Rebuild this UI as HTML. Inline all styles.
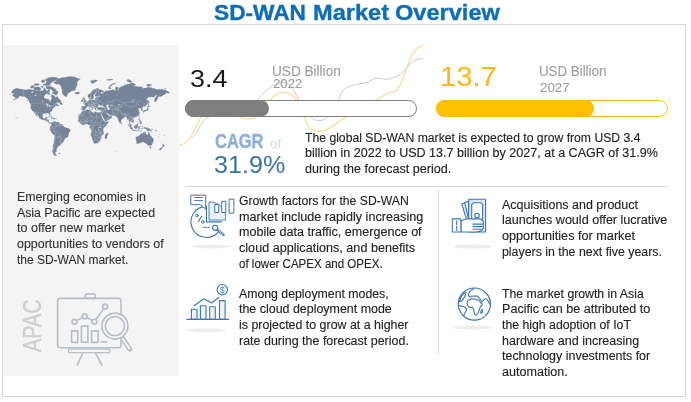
<!DOCTYPE html>
<html lang="en"><head><meta charset="utf-8"><title>SD-WAN Market Overview</title>
<style>
html,body{margin:0;padding:0;background:#fff;}
body{width:691px;height:402px;position:relative;overflow:hidden;font-family:"Liberation Sans",Arial,sans-serif;}
.t{position:absolute;white-space:nowrap;transform-origin:0 0;}
.abs{position:absolute;}
h1,p{margin:0;padding:0;font-size:12px;font-weight:normal;line-height:0;}
span.t{display:block;}
#frame{left:2px;top:24px;width:682px;height:371px;border:1px solid #d9d9d9;box-sizing:content-box;}
#panel{left:3px;top:45px;width:176px;height:331px;background:#f4f4f4;}
.bar{height:15px;border-radius:9px;border:1px solid;background:#fff;top:100px;}
.fill{height:17px;border-radius:8.5px;top:100px;}
svg{position:absolute;left:0;top:0;overflow:visible}
</style></head>
<body>
<div id="frame" class="abs"></div>
<div id="panel" class="abs"></div>
<svg width="691" height="402" viewBox="0 0 691 402" fill="none" stroke-linecap="butt"><path d="M191.7,138.6C192.4,137.7 194.7,135.2 196.2,133.0C197.7,130.8 199.1,127.5 200.6,125.2C202.1,122.9 203.8,120.3 205.1,119.0C206.4,117.7 205.2,118.1 208.5,117.1C211.8,116.1 218.9,114.7 225.0,113.0C231.1,111.3 239.7,109.2 245.0,107.0C250.3,104.8 253.8,102.3 257.0,100.0C260.2,97.7 261.5,95.3 264.0,93.0C266.5,90.7 269.7,87.6 272.0,86.0C274.3,84.4 275.9,84.1 278.0,83.5C280.1,82.9 282.4,82.2 284.6,82.6C286.8,83.0 288.7,83.3 291.0,86.0C293.3,88.7 296.3,95.0 298.5,99.0C300.7,103.0 302.1,107.1 304.0,110.0C305.9,112.9 308.5,114.7 310.2,116.3C311.9,117.9 312.5,118.8 314.0,119.5C315.5,120.2 317.6,120.6 319.3,120.6C321.1,120.6 323.0,120.2 324.5,119.5C326.0,118.8 326.8,118.2 328.4,116.3C330.0,114.4 332.3,110.7 334.0,108.0C335.7,105.3 337.3,102.8 338.6,100.0C339.9,97.2 340.5,93.6 342.0,91.5C343.5,89.4 345.4,88.3 347.4,87.3C349.4,86.3 351.6,85.9 354.0,85.3C356.4,84.7 359.4,84.0 361.8,83.4C364.2,82.9 366.4,82.7 368.3,82.0C370.2,81.3 371.8,79.6 373.5,79.0C375.2,78.4 376.8,78.2 378.7,78.2C380.6,78.2 383.2,79.2 385.2,79.3C387.1,79.4 388.4,79.1 390.4,78.6C392.3,78.1 394.7,77.2 396.9,76.1C399.1,74.9 401.4,73.5 403.4,71.7C405.3,69.9 407.0,67.2 408.6,65.5C410.2,63.8 411.6,62.3 413.0,61.3C414.4,60.3 415.6,59.9 417.3,59.4C419.0,58.9 422.3,58.6 423.3,58.4" stroke="#cdcdcd" stroke-width="1"/><path d="M179.4,145.1C180.3,144.8 183.1,144.4 185.0,143.1C186.9,141.8 188.9,139.9 190.6,137.5C192.3,135.1 193.7,131.1 195.0,128.5C196.3,125.9 197.4,123.8 198.4,121.8C199.4,119.8 199.9,118.8 201.2,116.8C202.5,114.8 203.7,111.8 206.0,110.0C208.3,108.2 211.0,106.0 215.0,106.0C219.0,106.0 225.7,108.1 230.0,110.0C234.3,111.9 238.0,116.0 241.0,117.5C244.0,119.0 245.7,119.0 248.0,119.0C250.3,119.0 252.5,119.3 255.0,117.5C257.5,115.7 260.5,110.9 263.0,108.0C265.5,105.1 267.8,102.2 270.0,100.0C272.2,97.8 273.7,95.8 276.0,94.5C278.3,93.2 281.2,92.2 283.7,92.2C286.2,92.2 288.8,93.2 291.0,94.5C293.2,95.8 295.3,97.8 297.0,100.0C298.7,102.2 299.8,105.3 301.0,108.0C302.2,110.7 303.1,113.3 304.3,116.3C305.5,119.3 306.8,123.7 308.2,126.0C309.6,128.3 311.0,129.1 313.0,130.0C315.0,130.9 317.3,131.8 320.0,131.6C322.7,131.4 326.0,130.2 329.0,128.6C332.0,127.0 335.1,124.1 338.2,122.1C341.2,120.0 343.3,118.8 347.3,116.3C351.3,113.8 357.3,109.7 362.0,107.0C366.7,104.3 372.2,101.8 375.7,100.0C379.2,98.2 380.8,97.2 383.0,96.0C385.2,94.8 387.0,93.8 389.0,93.0C391.0,92.2 393.3,92.6 395.0,91.5C396.7,90.4 397.8,89.2 399.4,86.3C401.0,83.4 402.9,78.8 404.6,74.3C406.4,69.8 408.0,63.5 409.9,59.4C411.8,55.3 413.6,52.1 415.8,49.7C418.0,47.3 422.1,46.0 423.3,45.2" stroke="#fbdb88" stroke-width="1.15"/></svg>
<div class="abs bar" style="left:185px;width:230px;border-color:#7f7f7f"></div>
<div class="abs fill" style="left:185px;width:84px;background:#7f7f7f"></div>
<div class="abs bar" style="left:436px;width:230px;border-color:#fdc01a"></div>
<div class="abs fill" style="left:436px;width:158px;background:#ffc000"></div>
<div class="abs" style="left:186px;top:186px;width:482px;height:1px;background:#d9d9d9"></div>
<div class="abs" style="left:438px;top:190px;width:1px;height:164px;background:#d9d9d9"></div>
<svg width="691" height="402" viewBox="0 0 691 402" aria-label="World map"><path d="M11.5,92.7L12.4,90.5L14.2,89.3L16.6,88.3L19.5,88.9L23.4,89.6L26.1,90.1L29.2,89.3L31.8,89.7L34.9,90.5L37.1,90.9L39.3,90.6L41.5,90.9L42.9,90.5L43.8,90.1L43.8,88.1L44.6,87.7L45.5,89.3L46.0,90.1L47.3,90.9L48.2,89.7L49.5,89.7L49.9,90.5L49.5,92.0L47.7,92.4L47.3,93.4L46.0,93.8L44.6,95.2L44.0,96.5L44.0,97.4L44.9,98.5L46.4,98.8L48.2,99.5L49.4,99.7L49.5,100.9L49.9,101.5L50.4,101.9L50.8,101.5L50.8,100.3L51.7,99.1L51.7,97.8L51.3,96.5L51.3,94.8L52.6,95.0L53.5,95.2L54.8,95.9L55.0,97.2L56.1,97.5L57.0,96.5L57.2,96.3L58.3,97.8L58.8,98.8L60.1,100.0L61.0,100.9L61.0,101.8L60.1,101.9L59.2,102.7L57.4,102.5L56.6,102.6L55.2,103.5L54.8,104.2L56.1,103.2L57.0,103.4L57.2,104.4L58.3,104.9L59.2,104.9L58.8,105.4L57.9,105.7L56.8,106.3L56.6,105.7L56.1,105.5L55.2,106.0L54.6,106.4L54.6,107.1L53.9,107.6L53.0,107.9L52.6,108.7L52.4,109.2L52.1,109.7L52.1,110.7L51.3,111.2L50.4,112.0L49.8,112.7L49.8,113.4L50.2,114.3L50.3,115.4L49.8,115.4L49.5,114.8L49.1,114.1L48.8,113.2L48.2,113.3L47.5,113.0L46.8,113.0L46.2,113.1L46.2,113.6L45.5,113.5L44.6,113.3L44.0,113.4L43.1,114.0L42.7,114.6L42.6,115.5L42.5,116.7L42.9,117.6L43.3,118.3L44.0,118.7L44.9,118.5L45.5,118.4L45.7,117.6L46.0,117.3L46.8,117.1L47.4,117.3L47.1,118.1L46.8,119.0L46.5,119.7L47.1,119.8L48.6,119.8L49.0,120.1L48.8,121.0L48.7,121.9L49.3,122.7L49.9,122.9L50.6,122.6L51.3,122.7L51.6,123.0L51.3,123.6L51.0,123.0L50.4,123.0L50.2,123.6L49.7,123.5L49.0,123.1L48.6,122.6L47.9,122.4L47.8,121.8L47.1,121.0L46.4,120.9L45.5,120.6L44.9,120.3L44.2,119.7L43.5,119.8L42.9,119.8L42.0,119.4L41.1,119.1L40.0,118.6L39.3,118.1L39.1,117.4L39.1,116.7L38.5,116.0L37.6,115.3L36.9,114.4L36.0,113.6L35.7,112.7L35.1,112.3L35.1,113.1L35.8,113.9L36.5,115.1L37.0,115.9L37.3,116.5L37.0,116.4L36.2,115.5L36.0,114.8L35.4,114.3L35.1,113.6L34.5,112.9L33.9,111.9L33.4,111.2L32.5,110.9L32.0,110.2L31.6,109.4L31.0,108.7L30.8,108.0L30.9,106.6L30.9,104.7L30.6,103.6L31.4,103.5L31.4,103.1L30.5,102.7L29.4,102.1L29.2,101.2L28.3,100.0L27.6,99.1L27.0,98.5L26.5,97.8L25.6,97.5L24.8,96.8L23.9,96.5L22.6,96.5L21.7,96.2L20.8,95.9L19.9,95.9L19.2,95.9L18.8,97.0L17.9,97.5L17.3,98.1L16.4,98.6L15.5,99.3L14.4,99.7L13.3,99.9L13.7,99.5L14.8,99.1L15.7,98.3L16.2,97.4L15.5,97.4L14.8,97.2L14.2,97.2L14.2,96.5L13.3,96.2L12.8,95.9L12.4,95.2L12.8,94.5L13.7,94.4L14.6,93.8L14.4,93.3L13.3,93.4L12.2,93.3L11.5,92.7ZM53.5,82.2L54.8,83.3L55.7,84.3L57.9,84.1L59.2,84.3L60.5,85.6L61.4,87.7L61.6,88.9L63.2,89.3L61.9,90.1L62.3,91.2L62.1,92.4L62.7,93.8L63.6,95.2L64.5,95.9L65.8,96.5L66.7,96.5L67.2,95.2L68.0,93.1L69.4,92.4L70.7,91.8L71.6,90.9L74.2,90.5L76.0,89.3L75.1,88.1L76.0,87.5L76.4,86.9L76.9,85.2L77.3,84.3L76.9,82.4L78.2,80.4L80.4,78.9L77.8,78.4L74.7,76.9L71.1,76.6L68.0,76.7L64.5,77.5L61.4,77.8L58.3,78.9L56.6,79.7L55.7,80.4L56.6,81.1L53.5,82.2ZM46.0,86.2L48.2,86.3L50.4,86.5L52.1,87.0L53.9,88.1L55.7,89.3L56.1,90.5L58.3,92.0L57.9,93.1L57.0,94.5L55.7,94.8L56.6,95.2L54.8,94.6L53.9,93.8L52.6,93.4L51.7,93.1L53.0,92.5L53.5,91.2L52.1,90.5L51.3,89.3L49.5,89.3L47.7,89.2L46.4,88.5L46.0,87.3ZM34.0,90.1L35.8,90.5L38.0,90.3L39.3,90.3L41.1,89.6L40.7,88.5L39.3,87.0L38.0,86.9L36.2,87.0L34.0,87.3L33.6,88.3L34.0,89.3ZM30.5,87.7L31.8,88.3L32.7,88.1L34.5,86.5L33.6,85.8L31.8,85.6L30.7,86.5ZM46.0,83.8L48.2,84.1L50.4,83.8L51.3,82.9L52.1,81.9L53.9,80.9L56.6,79.7L58.3,78.4L56.6,77.5L54.8,77.3L51.3,77.2L48.2,77.8L46.0,78.9L45.1,79.9L46.8,81.4L46.0,82.4ZM43.3,85.2L46.0,85.5L48.2,85.6L50.4,85.4L49.9,84.3L46.8,83.8L45.1,83.8L43.3,84.0ZM34.0,85.2L36.2,85.6L38.9,85.2L39.3,84.0L37.1,83.8L34.5,83.8ZM41.5,82.4L44.2,82.4L45.1,80.9L43.8,79.4L41.5,80.4ZM40.7,86.5L42.4,88.1L43.3,87.3L42.9,86.0ZM47.3,94.1L48.6,94.7L49.9,94.1L50.2,93.4L48.6,92.6L47.7,93.1ZM59.5,104.0L61.0,104.5L62.3,104.5L62.4,104.0L62.1,103.4L61.4,102.8L61.0,101.8L60.3,102.4L59.9,103.2L59.6,103.6ZM75.1,92.7L75.8,93.8L76.9,94.2L77.8,94.2L79.5,93.4L79.7,92.9L79.1,92.2L77.8,92.0L76.6,92.4L76.0,92.1ZM48.2,117.0L49.0,116.5L49.9,116.4L50.8,116.7L51.7,117.2L52.4,117.5L52.9,117.8L51.5,117.9L51.3,117.5L50.4,117.0L49.5,116.7L48.6,117.0ZM52.8,118.6L53.5,117.9L54.1,117.9L54.8,118.0L55.5,118.5L54.8,118.7L54.1,118.9L53.5,118.7ZM51.1,118.6L51.7,118.5L52.1,118.8L51.5,118.9ZM56.0,118.5L56.7,118.6L56.6,118.8L56.0,118.8ZM51.6,123.0L52.1,122.6L52.6,121.9L53.5,121.8L53.9,121.4L54.1,121.9L54.3,121.6L54.8,121.5L55.5,121.8L56.1,122.1L57.2,122.3L58.3,122.1L58.8,122.6L59.2,123.0L59.9,123.7L60.5,124.1L61.4,124.2L62.3,124.4L63.0,124.9L63.2,125.5L63.6,126.4L63.6,126.8L64.3,127.1L64.7,127.2L65.8,127.5L66.3,128.1L67.2,128.1L68.0,128.2L68.7,128.6L69.4,129.1L70.1,129.4L70.2,130.1L70.2,131.0L69.8,131.7L69.2,132.3L68.7,132.9L68.5,133.6L68.5,134.5L68.3,135.2L68.0,136.2L67.6,137.2L66.9,137.6L66.1,137.7L65.2,138.1L64.5,138.9L64.2,139.6L64.2,140.4L63.6,141.1L63.2,141.9L62.5,142.7L62.1,143.3L61.4,143.7L60.8,143.6L60.1,143.3L59.9,143.2L60.4,144.0L60.5,144.5L60.2,145.3L59.4,145.7L58.3,145.8L58.2,146.7L57.0,146.9L57.0,147.6L57.6,147.8L56.9,148.3L56.8,149.2L56.0,149.6L55.9,150.2L56.6,150.6L56.6,151.1L55.8,151.8L55.2,152.7L55.5,153.5L54.8,153.7L54.3,154.5L53.7,154.3L53.1,153.7L52.7,152.7L52.4,151.5L52.4,150.3L53.0,149.2L53.5,148.3L53.0,147.2L53.2,145.8L53.2,144.8L53.7,143.7L54.1,142.4L54.1,141.1L54.3,140.1L54.6,139.1L54.7,137.7L54.7,136.2L54.7,135.4L53.9,134.8L52.6,134.0L52.0,133.2L51.6,132.4L51.1,131.5L50.6,130.4L49.9,129.6L49.8,128.9L50.4,128.3L50.4,127.7L49.9,127.3L50.2,126.8L50.4,126.4L50.8,126.1L51.0,125.7L51.5,125.0L51.6,124.4L51.5,123.7ZM54.6,153.8L55.5,153.8L55.7,154.3L56.3,154.9L57.0,155.1L56.3,155.4L55.5,155.6L54.6,155.4L53.9,154.9L54.3,154.6L54.7,154.3ZM58.8,152.9L60.1,152.9L60.1,153.5L58.8,153.5ZM83.1,110.3L83.7,110.6L84.8,110.7L85.7,110.3L87.0,109.8L88.3,109.7L89.5,109.7L90.1,109.5L90.6,109.8L90.3,110.4L90.6,111.2L90.1,111.3L90.8,111.6L91.4,111.8L92.3,112.0L92.8,112.5L93.6,112.9L94.1,113.0L94.5,112.7L94.5,111.9L95.4,111.8L96.1,112.1L96.7,112.3L97.6,112.5L98.5,112.7L99.4,112.4L100.1,112.6L100.8,112.5L101.1,113.4L100.7,114.1L100.3,113.9L100.1,113.1L100.1,113.9L100.6,114.3L100.9,115.1L101.4,116.0L101.6,116.7L102.0,117.4L102.1,118.3L102.7,118.8L103.1,119.8L103.6,120.3L104.2,120.9L104.8,121.3L104.8,121.7L105.6,122.1L106.5,121.8L107.3,121.8L108.3,121.5L108.2,122.1L108.0,122.8L107.6,123.7L106.9,124.6L106.5,125.3L106.0,125.7L105.1,126.4L104.5,127.3L104.0,127.7L103.4,128.4L103.0,129.1L102.8,129.8L103.1,130.5L103.1,131.2L103.6,131.9L103.6,132.9L103.7,133.8L103.1,134.5L102.0,135.2L101.4,136.0L101.0,136.4L101.4,137.2L101.4,138.1L100.3,138.9L100.2,139.6L100.1,140.4L99.6,141.0L99.2,141.6L98.3,142.6L97.6,143.0L97.0,143.2L96.1,143.2L95.4,143.3L94.5,143.6L93.9,143.3L93.7,142.5L93.6,141.9L93.2,140.9L92.9,140.4L92.3,139.4L92.2,138.1L92.0,137.2L91.4,136.2L90.9,135.2L90.9,134.3L91.1,133.3L91.7,132.6L91.8,131.9L91.4,131.0L91.1,129.6L91.0,129.1L90.6,128.7L89.9,128.0L89.7,127.3L89.8,126.6L89.9,125.9L90.0,125.3L89.6,124.8L88.8,124.9L88.3,124.9L87.9,124.2L87.6,124.0L86.8,124.0L86.1,124.1L85.3,124.5L84.8,124.7L84.4,124.6L83.7,124.5L83.1,124.7L82.4,124.9L81.7,124.6L81.1,124.0L80.6,123.7L80.2,123.5L79.8,123.0L79.8,122.6L79.3,122.1L79.1,121.9L78.3,121.3L78.3,120.8L78.0,120.3L78.4,119.7L78.5,119.0L78.6,118.3L78.4,117.6L78.2,117.4L78.4,116.7L78.6,116.1L79.1,115.8L79.3,115.1L79.7,114.6L80.0,114.1L80.8,113.8L81.3,113.3L81.4,112.7L81.6,111.9L82.2,111.4L82.7,111.1ZM107.5,132.4L107.8,133.1L108.0,134.0L107.6,134.8L107.3,135.7L107.0,136.9L106.7,138.1L106.5,138.6L105.7,138.9L105.1,138.6L104.9,137.7L104.9,136.9L105.3,136.0L105.1,134.8L105.6,134.3L106.2,134.0L106.9,133.3L107.5,132.4ZM81.7,109.7L81.6,108.8L81.8,108.1L81.8,107.4L81.6,106.4L82.2,106.2L83.3,106.3L84.8,106.3L85.1,105.7L85.1,104.9L84.6,104.2L83.7,103.8L83.7,103.5L85.0,103.4L85.0,102.9L85.7,103.0L86.4,102.6L86.8,102.0L87.2,101.9L87.6,101.5L87.8,100.9L88.8,100.6L89.2,100.4L89.7,100.3L89.5,99.4L89.3,98.5L90.3,98.0L90.2,98.8L90.1,99.4L90.6,100.3L91.2,100.1L91.9,100.3L93.0,100.0L93.9,99.9L94.5,100.1L95.0,99.7L95.0,99.1L95.0,98.5L95.6,98.0L96.1,98.5L96.4,98.1L96.4,97.6L96.1,97.0L97.2,96.8L98.1,96.7L98.9,96.5L98.3,96.1L97.2,96.3L95.9,96.5L95.2,96.0L95.2,95.2L95.2,94.5L95.9,93.8L96.7,93.1L96.7,92.6L96.3,92.5L95.4,92.7L95.0,93.8L94.3,94.3L93.6,94.8L93.3,95.9L93.4,96.2L94.0,96.5L93.6,97.3L93.0,98.0L93.0,98.8L92.8,99.1L92.0,99.4L91.4,99.4L91.2,98.8L90.8,97.8L90.6,97.2L90.3,96.8L89.9,97.2L89.2,97.8L88.6,97.8L88.1,97.2L87.9,96.5L87.9,95.5L88.3,94.7L89.2,94.1L90.1,93.8L90.6,93.2L91.2,92.4L91.9,91.2L92.5,90.6L93.2,90.1L94.1,89.5L95.0,89.3L96.1,88.8L97.0,88.5L98.1,88.5L99.4,89.1L98.9,89.6L100.3,89.8L101.6,90.1L102.7,90.5L103.4,90.9L103.8,91.6L103.8,91.8L102.9,92.2L101.6,92.0L100.7,91.9L100.3,92.0L100.9,93.1L101.2,93.6L102.0,93.8L102.5,93.3L103.4,93.4L103.4,92.4L104.2,92.1L105.1,92.1L105.1,91.2L105.3,90.5L106.0,90.6L106.5,91.6L107.3,91.0L109.1,90.5L110.0,90.5L111.3,90.3L112.4,89.6L114.0,89.9L115.3,90.5L116.2,90.7L115.7,89.7L115.3,88.9L115.3,87.7L116.2,86.9L117.5,86.9L117.9,88.1L117.7,89.3L117.9,90.9L118.4,90.9L118.6,89.3L118.6,87.7L119.3,87.7L120.1,87.5L121.0,86.5L122.4,86.3L123.7,86.0L124.1,85.2L125.4,84.7L127.6,84.3L129.9,83.8L131.6,82.7L132.9,83.3L135.6,84.3L134.7,85.6L132.9,86.5L134.3,86.2L135.6,86.2L137.4,86.5L138.7,86.9L140.5,86.5L142.2,86.9L142.7,88.5L143.1,88.5L144.0,88.1L145.3,88.1L146.6,88.1L147.5,87.1L149.3,87.3L150.6,87.5L151.9,87.7L152.8,88.5L154.6,88.5L156.4,89.6L158.1,89.6L159.9,89.3L160.8,89.5L161.2,89.3L163.0,89.5L164.3,89.9L165.2,90.1L166.5,90.6L167.8,91.4L169.6,92.2L168.7,93.1L168.3,93.4L166.9,92.7L166.1,92.9L165.6,93.6L164.7,94.8L163.9,94.8L163.0,95.2L161.9,95.9L160.8,96.5L159.4,96.5L158.6,96.5L157.9,97.2L157.7,97.8L157.2,98.1L157.7,99.1L157.2,99.7L157.0,100.0L156.4,100.9L155.7,101.5L155.0,102.1L154.6,101.5L154.4,100.9L154.5,99.7L154.6,98.5L155.0,97.9L155.5,97.5L156.4,96.2L156.8,95.7L157.7,94.8L156.4,95.2L155.0,95.5L154.1,97.0L152.8,97.2L151.9,96.8L150.2,96.9L148.8,97.0L148.0,97.8L147.1,98.5L146.2,100.1L147.1,100.3L148.0,100.6L148.0,101.5L147.7,102.4L147.7,103.2L147.1,104.1L146.6,104.9L146.0,105.6L145.3,106.3L144.6,106.7L144.0,106.4L143.1,106.8L142.9,107.6L142.2,108.1L142.0,108.5L142.4,108.9L142.9,109.7L142.8,110.3L142.7,110.6L142.0,110.8L141.6,110.9L141.5,110.4L141.6,109.9L141.3,109.7L141.4,109.3L140.9,109.2L140.9,108.3L140.5,108.1L139.6,107.9L139.2,108.4L139.4,108.7L138.7,108.1L138.2,108.6L137.8,108.7L137.7,109.0L138.2,109.5L138.9,109.4L139.8,109.7L139.1,110.1L138.7,110.4L138.4,110.8L138.8,111.2L139.1,111.9L139.5,112.7L139.6,113.1L139.4,113.9L139.1,114.1L138.7,114.8L138.5,115.3L137.8,115.9L137.4,116.2L136.7,116.6L136.0,116.8L135.4,117.0L134.7,117.2L134.3,117.6L134.1,117.2L133.6,117.1L132.9,117.4L132.7,117.9L132.4,118.3L132.5,118.5L132.9,119.2L133.6,119.7L133.8,120.4L134.0,121.0L133.8,121.7L133.4,122.0L132.9,122.1L132.7,122.5L132.1,122.9L132.0,122.4L131.6,122.1L131.2,121.9L131.0,121.5L130.3,121.2L130.2,120.8L129.9,120.9L129.9,121.5L129.5,122.1L129.5,122.6L129.9,123.0L130.1,123.7L130.5,123.8L131.0,124.1L131.3,124.8L131.4,125.5L131.6,126.1L131.4,126.2L130.9,125.9L130.4,125.5L130.1,124.8L130.0,124.1L129.6,123.7L129.2,123.3L129.1,122.8L129.2,122.4L129.2,121.7L129.0,121.0L128.8,120.1L128.8,119.4L128.3,119.2L127.9,119.7L127.3,119.7L127.4,119.0L127.2,118.3L126.8,117.9L126.3,117.2L126.1,116.7L125.7,116.6L125.0,116.9L124.6,117.1L124.1,117.2L124.0,117.6L123.5,118.0L123.0,118.3L122.4,119.0L121.9,119.4L121.2,119.8L121.1,120.4L121.1,121.0L120.9,121.7L120.9,122.2L120.6,122.7L120.1,123.0L119.9,123.3L119.7,123.1L119.4,122.6L119.3,122.1L118.8,121.3L118.6,120.6L118.3,119.9L117.9,119.2L117.8,118.3L117.8,117.9L117.8,117.3L117.5,117.3L116.8,117.5L116.2,116.8L116.6,116.5L115.9,116.2L115.5,116.1L115.2,115.6L115.1,115.4L114.0,115.4L113.1,115.4L112.2,115.3L111.1,115.3L110.8,114.6L109.8,114.8L109.1,114.6L108.4,114.1L108.0,113.4L107.6,113.0L107.1,113.1L106.9,113.4L107.1,113.9L107.8,114.7L107.9,115.3L108.2,115.1L108.4,115.5L108.4,115.9L108.9,115.9L109.5,115.9L110.2,115.3L110.5,115.0L110.6,115.5L110.9,116.0L111.6,116.2L112.1,116.7L111.8,117.4L111.3,117.7L111.2,118.3L110.6,118.8L110.1,119.0L109.3,119.4L108.7,119.8L107.8,120.1L106.9,120.6L106.0,120.9L105.6,121.1L104.9,121.2L104.7,120.8L104.6,120.1L104.5,119.5L104.0,118.9L103.6,118.1L103.1,117.5L102.9,116.9L102.6,116.2L102.2,115.5L101.8,114.9L101.2,114.1L101.1,113.4L100.9,112.9L100.8,112.5L101.2,111.9L101.3,111.3L101.6,110.7L101.7,110.0L101.6,109.8L100.9,109.8L100.3,110.1L99.6,109.8L99.2,109.9L98.5,109.9L98.1,109.8L97.8,109.5L97.4,108.9L97.3,108.4L97.5,107.9L97.2,107.7L96.7,107.7L96.3,107.9L96.1,108.1L95.7,108.0L95.9,108.5L96.3,109.1L96.1,109.2L95.9,109.5L95.9,109.9L95.5,109.9L95.2,109.7L95.1,109.2L95.0,108.7L94.5,108.3L94.3,107.9L94.3,107.4L94.1,106.9L93.4,106.6L92.8,106.3L92.3,105.7L92.1,105.4L91.9,105.5L91.7,105.1L91.1,105.4L91.2,106.0L91.7,106.3L91.9,106.8L92.3,107.1L92.8,107.2L93.2,107.6L93.9,108.0L93.6,108.0L93.2,107.9L93.1,108.3L93.2,108.7L93.0,108.9L92.8,109.2L92.6,109.2L92.8,108.4L92.5,108.1L92.1,107.8L91.4,107.5L91.0,107.1L90.3,106.7L90.1,106.0L89.6,105.8L89.0,106.1L88.6,106.5L87.9,106.4L87.5,106.3L87.1,106.4L87.1,107.2L86.6,107.5L85.9,107.9L85.6,108.5L85.7,108.8L85.5,109.2L85.3,109.4L84.8,109.8L83.9,109.8L83.4,110.1L82.9,109.8L82.4,109.6ZM83.3,102.7L84.2,102.5L84.8,102.3L85.7,102.2L86.3,102.0L86.1,101.6L86.5,101.1L85.8,100.9L85.7,100.6L85.6,100.0L85.0,99.7L84.9,99.3L84.4,99.1L84.7,98.7L84.8,98.1L83.9,98.1L84.3,97.4L83.5,97.4L83.1,98.1L83.2,98.8L83.3,99.4L83.5,99.7L84.2,99.8L84.4,100.3L84.4,100.7L83.7,100.7L83.8,101.2L83.4,101.6L84.2,101.8L83.7,102.0ZM81.3,101.7L82.2,101.7L82.9,101.4L83.1,100.6L83.2,99.9L82.8,99.6L82.5,99.5L81.9,100.0L81.3,100.3L81.5,100.9L81.3,101.4ZM91.2,109.2L92.5,109.1L92.4,109.8L91.4,109.5ZM89.4,107.6L90.0,107.6L89.9,108.6L89.5,108.7ZM89.5,106.7L89.9,106.7L89.9,107.4L89.6,107.3ZM96.1,110.4L97.3,110.5L97.2,110.7L96.1,110.6ZM100.0,110.7L100.9,110.4L100.7,110.8L100.1,110.9ZM90.6,81.4L91.4,82.9L92.3,83.6L93.2,83.5L94.1,82.6L95.4,82.1L96.3,81.4L97.6,80.4L95.9,80.0L94.5,79.9L93.2,80.4L91.9,80.4L90.8,80.7ZM108.4,88.1L109.1,88.7L110.2,88.8L111.1,88.8L110.4,88.1L110.2,86.9L111.1,86.0L112.2,84.7L114.4,84.0L116.2,83.3L115.3,83.2L113.5,83.5L111.3,84.3L110.2,85.2L110.0,86.0L109.1,86.9L108.4,88.1ZM127.6,81.4L129.0,82.1L129.9,82.4L131.2,82.2L132.1,81.9L131.2,80.9L129.9,79.9L128.5,79.4L127.6,79.4L126.8,80.4ZM106.9,80.1L108.7,80.4L111.3,80.1L113.1,79.6L111.3,78.9L108.7,79.4L106.9,79.6ZM146.2,85.2L147.5,86.0L148.8,86.5L151.1,85.3L151.9,85.2L151.1,84.4L148.8,84.3L147.1,84.4ZM164.5,88.5L165.8,88.7L166.3,88.3L165.2,88.0ZM148.4,104.9L149.0,104.7L148.7,104.1L148.8,103.2L149.4,103.1L149.0,102.1L148.9,101.5L148.8,100.6L148.6,100.1L148.4,100.9L148.3,101.8L148.4,102.7L148.4,103.8ZM147.5,107.4L148.0,106.9L149.0,107.1L149.9,106.4L149.4,106.0L148.8,105.7L148.3,105.2L148.2,106.0L148.1,106.4L147.7,106.6L147.4,107.1ZM143.1,112.5L143.5,112.6L143.9,112.2L144.0,111.6L144.4,111.4L145.1,111.3L145.3,111.4L145.8,111.3L146.2,110.8L146.9,110.8L147.3,110.7L147.8,110.5L148.0,109.9L148.0,109.2L148.2,108.9L148.4,108.3L148.2,107.9L148.1,107.4L147.7,107.5L147.5,107.6L147.5,108.4L147.2,109.0L146.9,109.5L146.3,109.7L146.1,109.5L146.0,109.9L145.8,110.3L145.1,110.3L144.4,110.4L144.0,110.7L143.5,111.0L143.3,111.3L143.0,111.6L143.1,112.0ZM138.8,116.5L139.0,116.9L139.3,116.6L139.5,115.5L139.1,115.4L138.8,116.0ZM133.7,118.2L134.1,118.6L134.5,118.5L134.7,118.0L134.3,117.8L133.8,117.9ZM121.0,122.5L121.5,122.9L121.8,123.5L121.7,124.0L121.3,124.1L121.0,124.0L120.9,123.5L120.9,123.0ZM138.9,118.5L139.7,118.5L139.7,119.2L139.6,119.7L139.4,120.1L140.0,120.6L140.5,121.0L140.2,121.2L139.8,120.7L139.4,120.7L139.0,120.4L138.7,120.1L138.7,119.4L138.8,119.0ZM139.6,122.1L140.0,122.8L140.5,122.4L140.9,122.4L141.2,121.9L141.1,121.3L140.7,121.3L140.5,121.7L140.0,121.7L139.6,121.5L139.5,121.7ZM137.5,123.0L138.5,122.1L138.6,121.8L138.2,122.0L137.5,122.8ZM139.6,123.7L139.8,123.3L140.2,123.0L140.7,123.0L141.1,122.5L141.5,123.0L141.6,123.5L141.3,123.9L141.1,124.1L140.9,124.3L140.5,123.7L140.1,123.5ZM127.8,124.4L128.3,124.5L128.8,124.5L129.2,125.0L129.9,125.5L130.3,125.8L131.0,126.4L131.4,126.8L131.8,127.5L132.5,128.2L132.5,128.9L132.4,129.5L131.8,129.5L131.4,129.1L130.7,128.7L130.3,128.0L130.1,127.5L129.6,126.8L129.3,126.1L128.8,125.6L128.3,125.2L127.9,124.7ZM132.2,130.0L132.7,129.6L133.6,129.9L134.3,129.9L134.7,129.8L135.5,130.1L136.3,130.4L136.3,130.8L135.6,130.7L134.7,130.7L134.3,130.6L133.4,130.4L132.7,130.2ZM136.5,130.6L137.4,130.7L138.2,130.8L139.1,130.8L140.0,130.7L140.0,130.9L138.7,131.0L137.4,131.0L136.5,130.9ZM140.2,131.6L140.9,131.1L141.8,130.7L141.9,130.8L141.1,131.3L140.5,131.6ZM133.8,126.1L134.3,126.0L134.7,126.0L134.9,125.6L135.6,125.4L136.0,124.8L136.7,124.6L137.1,123.9L137.4,123.7L137.7,124.0L138.2,124.5L137.8,124.9L137.7,125.5L137.8,125.9L138.2,126.4L137.7,126.6L137.6,127.3L137.1,127.7L137.0,128.6L136.3,128.7L135.8,128.4L135.2,128.4L134.7,128.2L134.3,128.1L134.3,127.5L133.9,127.0L133.8,126.6ZM138.5,129.4L138.5,128.4L138.2,128.0L138.4,127.3L138.7,126.7L139.0,126.3L140.0,126.4L140.9,126.1L140.7,126.6L140.2,126.6L139.4,126.6L138.9,126.8L138.8,127.2L139.4,127.2L140.1,127.2L139.8,127.5L139.4,127.7L139.7,128.2L140.0,128.7L139.9,129.0L139.6,129.0L139.4,128.4L139.1,128.1L138.9,128.2L138.9,128.7L138.9,129.4ZM142.0,126.0L142.2,125.8L142.5,126.2L142.5,126.7L142.2,127.2L142.1,126.6ZM141.3,128.3L142.2,128.1L143.5,128.3L143.1,128.5L142.2,128.5L141.6,128.5ZM143.5,127.2L144.2,127.0L144.9,127.2L145.0,127.8L145.3,128.3L146.0,127.8L146.4,127.6L147.1,127.7L148.0,128.0L148.8,128.4L149.7,128.9L150.2,129.4L150.8,129.6L150.6,130.0L151.1,130.5L151.7,131.2L152.2,131.7L151.5,131.6L150.6,131.2L150.2,130.6L149.5,130.4L149.1,130.7L148.6,131.1L148.0,131.0L147.3,130.6L146.9,130.6L146.6,130.1L146.9,129.6L146.6,129.4L145.8,128.9L144.9,128.7L144.4,128.7L144.3,128.3L144.7,128.0L144.2,127.9L143.8,127.5ZM151.3,129.4L151.9,129.4L152.8,128.8L153.0,129.1L152.4,129.6L151.7,129.7ZM135.8,137.2L135.8,138.1L136.0,139.1L136.2,140.1L136.5,141.1L136.7,142.2L136.5,143.3L136.9,143.7L137.8,143.7L138.7,143.2L139.6,143.1L140.2,143.1L140.9,142.6L141.3,142.3L142.0,142.3L142.7,142.0L143.5,141.9L144.2,142.2L144.9,142.7L145.5,143.6L146.0,143.2L146.4,142.7L146.5,143.2L146.6,144.0L147.3,144.2L147.5,145.0L148.2,145.5L148.8,145.7L149.5,145.4L149.9,145.6L150.3,145.8L150.8,145.3L151.3,145.2L151.9,144.9L152.1,144.0L152.4,143.2L152.8,142.4L153.3,141.6L153.5,140.6L153.5,140.1L153.3,139.1L153.3,138.6L152.6,138.1L152.4,137.9L151.7,137.2L151.3,136.3L150.6,136.0L150.2,135.5L149.9,134.5L149.9,133.8L149.3,133.5L149.1,132.9L148.8,132.2L148.6,131.8L148.4,132.4L148.3,132.9L148.2,133.8L148.0,134.5L147.7,135.0L147.3,135.0L146.6,134.6L146.2,134.2L145.5,133.8L145.8,133.1L146.1,132.5L145.3,132.4L144.4,132.2L144.0,132.1L143.5,132.5L143.1,133.1L142.9,133.8L142.4,133.7L141.8,133.3L141.3,133.3L140.9,134.0L140.5,134.5L140.0,134.8L139.7,135.0L139.6,135.5L139.1,136.0L138.2,136.2L137.4,136.5L136.5,136.9ZM149.6,146.8L150.4,147.0L151.1,146.8L151.2,147.5L151.1,148.1L150.4,148.4L149.9,148.1L149.9,147.5ZM162.0,143.5L162.3,143.9L162.8,144.2L163.2,144.6L163.4,145.1L164.1,145.2L164.5,145.1L164.3,145.8L163.9,146.0L163.8,146.6L163.2,147.2L162.9,147.1L163.0,146.4L162.5,146.1L162.4,146.0L162.8,145.6L162.9,145.0L162.6,144.5L162.1,143.8ZM162.0,146.7L162.3,146.9L162.6,147.3L162.3,147.9L162.0,148.4L161.4,148.7L161.2,149.5L160.8,149.9L160.3,150.1L159.7,149.9L159.2,149.7L159.4,149.2L160.1,148.6L160.8,148.2L161.3,147.5L161.6,146.9ZM16.8,118.3L17.3,118.1L17.2,117.8L16.8,117.9ZM15.8,117.3L16.1,117.3L16.0,117.1L15.8,117.1ZM17.5,98.5L18.4,98.3L18.4,97.8L17.9,97.7ZM29.2,102.4L30.3,102.6L31.2,103.5L30.6,103.5L29.8,103.1ZM27.0,100.3L27.5,100.3L27.7,101.3L27.3,101.0ZM10.0,94.1L11.1,94.4L10.9,94.0ZM158.1,136.3L159.2,137.2L159.4,137.4L158.8,137.1ZM164.0,135.0L164.6,135.0L164.5,135.3L164.0,135.3ZM154.8,130.1L156.1,130.6L156.8,131.3L156.6,131.4L155.5,130.7ZM159.3,133.8L159.5,133.9L159.8,134.5L159.6,134.4ZM142.1,115.0L142.3,114.7L142.2,115.0ZM126.6,121.5L126.8,120.9L126.7,121.7ZM109.3,121.2L109.8,121.2L109.5,121.3ZM103.0,129.5L103.2,129.6L103.1,129.8ZM111.0,136.2L111.2,136.3L111.1,136.4ZM116.2,151.5L116.8,151.7L116.6,152.0ZM51.3,115.8L51.5,115.5L51.6,115.9ZM58.4,122.1L58.8,122.0L58.8,122.3L58.4,122.3ZM45.3,126.9L45.6,127.0L45.5,127.3ZM78.3,114.0L78.9,114.1L78.8,114.2ZM107.1,90.1L107.8,89.9L107.5,90.3ZM93.7,98.3L94.1,97.9L94.0,98.4ZM90.6,99.3L91.2,99.1L91.1,99.6L90.6,99.6Z" fill="#758499" stroke="#758499" stroke-width="0.25" stroke-linejoin="round"/><path d="M106.5,105.2L107.1,104.8L108.0,104.5L109.1,104.7L109.0,105.3L108.2,105.7L107.9,106.3L108.2,106.8L108.9,107.2L109.2,107.9L109.5,108.7L109.4,109.4L108.7,109.8L108.0,109.8L107.3,109.4L107.3,108.9L107.6,108.1L107.1,107.4L106.7,106.7L106.5,106.0ZM98.1,107.1L98.1,106.3L98.4,105.6L98.9,105.2L99.2,104.7L99.8,104.8L100.3,104.9L100.1,105.3L100.5,105.7L101.2,105.6L101.8,105.4L102.2,105.3L102.5,104.9L102.3,104.5L102.9,104.3L102.7,104.9L102.3,105.5L102.6,105.9L103.4,106.4L104.0,106.9L104.0,107.4L103.4,107.6L102.5,107.6L101.8,107.5L101.2,107.1L100.3,107.1L99.6,107.5L98.9,107.5L98.5,107.5ZM45.1,104.5L46.8,103.4L48.2,103.9L48.3,104.7L47.3,104.7L46.0,104.5ZM46.9,107.1L47.3,107.2L47.6,106.6L48.0,105.2L47.5,105.0L46.9,106.0ZM48.4,104.9L49.9,104.9L50.4,105.7L49.6,106.4L49.3,106.4L48.8,105.7L48.8,105.2ZM48.9,107.2L50.4,106.7L50.8,106.7L49.9,107.3ZM50.5,106.4L51.7,106.0L52.0,106.2L51.3,106.4ZM42.0,100.4L42.9,102.4L43.2,102.1L42.6,100.4ZM30.9,92.4L32.3,91.6L33.6,92.1L32.3,93.1ZM34.0,95.9L35.4,94.7L37.1,94.7L36.2,95.4ZM131.5,101.7L132.3,101.7L133.6,100.6L134.3,99.3L133.8,99.3L132.9,100.6ZM111.5,104.7L112.2,104.5L112.6,105.2L112.2,106.0L111.4,105.7ZM99.7,127.0L100.1,126.7L100.7,126.8L100.7,127.7L100.1,128.1L99.7,127.7ZM98.9,96.5L99.4,95.5L100.3,95.9L100.1,96.4ZM118.2,105.5L118.4,104.5L120.6,104.5L120.6,104.8L118.8,105.2ZM98.6,128.4L98.9,128.7L99.3,130.5L99.0,130.8L98.6,129.6ZM100.7,131.2L101.1,131.9L101.2,133.5L100.9,133.4L100.7,132.4Z" fill="#f4f4f4"/><path d="M31.4,103.2L43.8,103.2L46.2,103.8L48.4,104.7L49.3,105.3L49.3,107.1L50.8,106.6L51.9,106.0L52.6,105.5L54.1,105.5L55.2,104.2L55.8,104.4L56.1,105.5M23.4,89.6L23.4,96.3L25.2,97.2L26.1,96.8L27.0,98.5L28.3,99.4M34.0,111.9L35.0,111.9L36.7,112.5L37.9,112.5L38.7,112.3L39.6,113.3L40.2,113.6L41.1,113.2L41.8,114.3L42.8,115.1M45.0,120.4L45.3,119.7L45.7,119.7L45.5,118.9L46.4,118.9L46.7,118.5M46.3,120.4L46.7,119.8M47.1,121.0L48.2,120.4L49.0,120.1M47.9,121.9L48.7,121.9M49.0,123.1L49.2,122.6M54.1,121.6L53.7,122.8L53.9,123.7L54.8,123.7L55.9,124.1L56.1,125.9L56.2,126.3M59.2,123.0L58.6,124.1L58.9,124.5L59.2,124.8M56.2,126.3L57.4,125.9L57.4,125.0L58.8,124.8L59.2,124.5M60.5,124.1L60.1,125.0L60.5,125.9L61.0,125.9M61.9,124.3L61.6,125.8M62.9,125.0L62.5,125.7L61.6,125.8L61.0,125.9L59.9,126.2L59.2,125.9L59.2,124.8M56.2,126.3L54.8,126.4L55.0,127.3L54.8,128.7M54.8,128.7L53.5,127.9L52.4,126.8M52.4,126.8L51.7,126.7L50.8,126.1M52.4,126.8L52.4,127.7L51.3,128.4L50.8,129.1L50.2,128.4M54.8,128.7L53.5,129.1L53.0,130.3L53.7,131.2L54.6,131.2L54.6,131.9L55.0,131.9M55.0,131.9L55.2,132.6L55.2,133.8L55.0,135.0L54.7,135.4M55.0,131.9L56.9,131.5L57.0,132.4L58.3,133.1L59.1,133.2L59.2,134.4L60.0,134.4L60.2,135.2L60.1,136.2M55.0,135.0L55.5,136.2L56.0,137.6M56.0,137.6L57.0,137.2L58.0,137.3M58.0,137.3L58.3,136.4L60.1,136.2M60.1,136.2L60.2,137.2L61.1,137.3L61.7,138.1L61.6,138.9M58.0,137.3L60.1,138.6L60.2,139.8L61.0,139.8L61.6,138.9M61.6,138.9L62.0,139.6L61.1,140.3L60.3,141.2M60.3,141.2L61.0,141.6L62.1,143.0M60.3,141.2L60.0,142.9M56.0,137.6L55.5,138.6L55.0,140.1L54.8,141.6L54.8,143.2L54.3,144.8L54.1,146.4L53.9,148.6L53.9,150.3L53.5,152.1L53.9,153.4L55.5,153.5M84.8,110.7L85.1,112.0L84.2,112.7L81.9,113.8L81.9,114.4M81.9,114.3L80.0,114.3M81.9,114.4L81.9,115.1L80.4,115.1L80.4,116.2L80.0,116.5L80.0,117.3L78.2,117.3M81.9,114.4L83.6,115.5L86.2,117.3L87.2,118.3L87.6,118.2L88.3,118.0L91.0,116.2M89.5,109.7L89.4,110.9L89.0,111.3L89.7,112.2L89.9,113.0M90.8,111.6L90.2,112.3L89.9,113.0M89.9,113.0L90.1,114.8L91.0,116.2M96.7,112.3L96.7,116.9M96.7,116.9L102.0,116.9M91.0,116.2L92.3,116.5L96.3,118.1L96.3,117.9L96.7,117.9L96.7,116.9M83.6,115.5L82.8,115.5L83.3,119.9L80.6,119.9L80.3,120.2M78.4,119.7L79.3,119.4L80.3,120.2M87.6,118.2L87.6,119.7L87.2,119.9L86.1,120.1L85.8,120.1M85.8,120.1L84.8,120.4L83.7,120.8L83.3,121.7L83.3,122.1M80.3,120.2L80.7,121.3L81.9,121.3L82.2,122.2L83.3,122.1M87.3,121.6L87.5,120.8L88.8,121.0L89.7,121.1L91.0,120.9L91.7,120.7M91.7,120.7L92.5,119.4L92.5,117.9L92.3,116.5M96.3,118.1L96.3,119.8L95.6,120.6L95.4,121.2L95.9,122.1M95.9,122.1L94.1,122.8L92.5,123.5M92.5,123.5L91.9,122.4L92.1,121.1L91.7,120.7M92.0,121.3L91.0,123.0L89.9,123.9L89.5,124.7M86.9,124.0L86.9,122.8L87.3,121.6M85.8,120.1L86.6,121.3L87.3,121.6M84.5,121.9L85.9,121.9L86.6,121.3M86.2,124.1L85.9,121.9M84.4,124.6L84.5,122.6L84.5,121.9M82.4,124.9L81.9,123.5L82.2,122.2M80.6,123.7L81.2,123.0L81.9,123.5M79.8,122.8L81.1,122.5L81.2,123.0M79.1,121.9L79.7,121.2L80.7,121.3M102.7,118.8L101.8,120.4L101.2,121.9L100.7,123.0L100.3,123.3M96.1,122.8L97.6,122.6L98.9,122.4L100.3,122.4L100.7,122.6M101.8,120.4L103.4,120.4L104.5,121.3M104.7,121.8L104.7,122.8L106.9,123.3L105.6,124.6L104.2,125.0L103.8,125.5M103.8,125.5L102.9,125.3L101.6,124.8L100.7,124.9M100.7,124.9L99.4,125.2L97.8,124.6L96.1,122.8M97.8,124.6L95.6,125.0L93.9,125.3M92.5,123.5L92.1,124.6L92.8,125.9M90.0,125.8L91.6,125.8L92.8,125.9L93.9,125.3M93.9,125.3L93.5,127.0L92.8,128.0L92.5,128.8L91.4,128.9L91.1,129.5M90.6,128.7L91.0,127.9L92.1,127.7L92.0,126.2L91.6,125.8M103.8,125.5L103.8,127.6M100.7,127.3L102.3,128.2L103.0,129.0M100.7,124.9L100.9,126.4L100.7,127.3M99.4,125.2L98.9,126.4L98.8,127.4M99.2,127.3L100.7,127.3M98.8,127.4L98.6,128.4M99.3,130.7L100.2,131.2L100.7,131.2M101.1,132.2L102.5,132.1L103.5,131.7M91.1,129.5L93.0,129.5L93.4,130.5L94.5,130.1L95.3,130.2L95.4,131.9L96.3,131.9L96.3,132.9M96.3,132.9L95.4,132.9L95.4,134.4L96.0,135.0M96.3,131.9L97.8,132.5L98.5,133.0L98.9,132.5L98.3,131.9L98.2,131.1L99.3,130.7M90.9,134.9L91.9,134.9L93.9,134.9L96.0,135.0L96.9,135.1M95.0,135.4L95.0,137.2L94.5,137.2L94.5,140.3M93.0,140.4L94.5,140.3M94.5,138.6L95.9,138.8L97.0,138.9L97.6,137.9L98.7,137.3M96.9,135.1L97.9,136.4L98.7,137.3M96.9,135.1L97.6,135.2L98.5,134.3L99.1,134.1M99.1,134.1L100.3,134.8L100.2,136.2L99.5,137.4M98.7,137.3L99.5,137.4M99.5,137.4L99.8,138.6L100.2,139.6M99.1,134.1L99.0,133.7L100.3,133.3L100.1,131.9L100.2,131.2M101.1,132.2L101.5,133.6L101.3,134.8L100.8,133.6M97.6,141.0L98.3,140.5L98.7,140.9L98.1,141.4L97.6,141.0M81.8,107.1L82.8,107.2L82.6,108.1L82.5,109.2L82.4,109.6M84.9,106.4L87.1,106.8M86.8,102.0L87.6,102.7L88.3,103.0L89.3,103.2L89.1,104.0L88.3,104.8L88.8,105.0L88.7,105.9L89.0,106.1M87.2,101.9L88.3,101.6L88.8,100.7M88.3,103.0L88.4,102.2L88.3,101.6M89.5,99.8L90.0,99.8M92.0,100.4L92.2,102.1M92.2,102.1L91.1,102.5L91.8,103.4M91.8,103.4L91.4,104.1L89.9,104.1L89.1,104.0M88.7,104.9L89.7,104.9L90.3,104.5L89.9,104.1M90.3,104.5L91.7,104.7L91.7,105.1M91.7,104.7L92.8,104.5L93.2,103.8L93.2,103.4L92.3,103.2L91.8,103.4M92.2,102.1L93.0,102.5L94.0,103.0M93.2,103.4L94.0,103.0L95.6,103.2L95.5,103.6L94.0,103.9L93.2,103.8M95.6,103.2L96.3,102.4L96.1,101.5L96.1,100.3L95.8,100.1L94.4,100.1M95.5,103.6L95.8,103.9L95.0,104.8L94.0,105.0L93.0,104.7M95.8,103.9L97.4,103.6L98.2,105.2L98.8,105.4M95.0,104.8L95.1,105.6L95.7,105.9L96.7,106.2L98.3,106.2M91.7,105.1L92.5,105.2L93.0,104.7M94.1,105.0L94.2,105.8L94.3,106.8L94.8,107.6L95.0,107.7L95.8,107.5L97.3,107.2L98.1,107.1M95.7,105.9L95.6,106.9L95.8,107.5M97.3,107.2L97.2,107.7M94.1,105.5L92.8,105.4L92.7,105.6L93.4,106.6M94.3,106.8L94.8,106.6L95.2,106.9L94.8,107.6M94.3,107.2L94.8,107.6M94.5,108.3L95.0,107.7M90.6,97.2L91.2,95.9L91.0,94.1L91.9,93.1L92.8,90.9L94.5,90.1L94.8,90.0M94.8,90.0L96.2,91.0L96.3,92.5M94.8,90.0L97.0,89.7L98.1,89.3L98.5,89.6M98.5,89.6L98.5,91.6L98.9,93.1L98.8,94.1L99.6,94.6L98.0,96.2M98.1,96.8L97.8,98.1L96.4,97.9M97.8,98.1L98.1,99.0L97.2,99.3L95.4,98.8L95.0,99.0M97.2,99.3L97.5,99.5L97.0,100.3L96.1,100.3M95.8,100.1L95.8,99.7L95.1,99.5M98.1,99.0L99.4,99.7L100.1,100.7L99.5,101.4L99.2,101.9L96.1,101.8M99.5,101.4L100.7,101.3L101.6,102.5L103.4,102.9L103.2,103.9L102.6,104.3M97.4,103.6L98.5,103.8L98.9,104.7M101.6,110.2L102.5,109.8L104.4,109.6L105.5,109.6L105.1,108.5L105.0,107.6L104.0,107.4M103.4,106.3L104.7,106.7L106.2,107.2L107.1,107.2M105.0,107.6L105.6,107.5L106.2,107.2M105.1,108.5L106.0,108.8L106.9,108.4L107.3,109.0M105.5,109.6L106.0,110.7L105.8,111.2L106.8,112.7L107.1,113.1M104.4,109.6L103.8,110.9L102.8,111.5M102.8,111.5L103.0,112.1L104.2,112.7L105.4,113.5L106.2,113.6L106.8,113.1M102.8,111.5L101.9,112.0L101.6,111.7M101.4,111.7L101.4,112.0L101.2,113.3M103.0,112.1L102.0,112.4L102.5,112.9L102.3,113.1L101.6,113.5L101.2,113.4M104.6,119.5L105.1,119.0L106.5,119.2L107.3,118.5L108.7,118.3M108.7,118.3L110.0,117.9L110.3,116.9L110.1,116.6L108.9,116.5L108.5,115.9M108.7,118.3L109.1,119.4M110.1,116.6L110.4,116.0L110.6,115.2M109.5,109.5L110.4,109.2L111.8,109.4L112.7,109.9L112.5,111.0L112.5,112.4L113.0,112.8L112.6,113.2L113.5,114.5L112.9,115.4M112.6,113.2L115.0,113.2L116.3,112.2L116.6,111.2L117.3,110.1L118.6,109.7M112.7,110.4L114.2,109.9L115.1,109.5L116.4,109.4L117.3,109.2L117.3,109.8L118.6,109.5M115.1,109.5L113.1,108.1L112.2,107.4L110.4,107.5L110.4,105.5L111.5,105.2M110.4,105.5L112.6,105.9L114.2,106.2L114.8,107.1L115.7,107.6L116.8,107.1L117.1,106.9M109.1,107.1L109.8,107.1L110.4,107.5M116.8,107.1L118.2,106.6L118.8,106.7L121.1,107.0M115.7,107.6L116.4,108.1L118.2,108.4L118.3,108.9L118.6,109.5M118.2,108.4L119.6,107.7L121.1,107.0M115.6,108.4L115.7,109.4M121.1,107.0L121.2,105.5L122.1,105.3L122.4,104.3L123.5,104.4L124.2,103.1M107.3,104.8L106.5,103.8L106.2,103.5L106.5,102.8L107.1,102.7L108.1,101.7L109.8,102.1L111.5,102.1L112.9,102.1L112.6,100.4L114.4,100.0L116.2,99.5L117.1,100.3L118.2,100.6L119.5,100.3L121.0,102.2L122.6,102.1L124.2,103.1M124.2,103.1L126.3,102.2L129.0,102.7L129.2,101.5L130.9,101.9L132.9,102.8L135.6,102.7L137.2,102.8M137.2,102.8L138.7,101.0L140.2,100.6L142.0,102.7L143.5,104.0L145.3,103.6L144.4,105.5L143.5,105.6L143.4,106.8M124.2,103.1L125.9,104.9L125.9,105.5L127.9,105.9L128.3,106.7L130.3,106.8L132.1,107.3L134.5,106.7L135.2,105.5L136.9,104.8L138.6,104.5L137.7,103.8L137.2,102.8M140.6,108.1L141.7,107.2L142.3,107.1L143.4,106.8M141.4,109.3L142.4,108.9M118.6,109.5L120.1,110.4L120.6,111.7L120.5,112.4L121.5,113.1L122.8,113.7L124.6,114.2L125.0,114.4L126.3,114.2L127.4,113.5L128.7,114.0L129.3,114.3L129.2,115.2L128.8,115.8L129.4,116.9L130.4,117.2L130.8,116.7L132.2,116.3L132.8,116.9L133.4,117.2M121.1,113.7L121.5,113.1M121.1,113.7L122.4,114.4L124.6,114.9L124.6,114.2M125.0,114.4L125.0,114.7L126.3,114.7L126.3,114.2M115.8,116.1L117.1,115.8L116.6,114.3L117.7,113.6L118.6,112.7L119.0,112.0L118.4,111.7L118.4,110.8L119.7,110.7L120.1,110.4M125.0,116.9L124.6,115.8L124.6,114.9L125.4,115.1L126.5,115.5L126.0,116.5L126.5,116.9L126.5,117.5M126.6,116.9L126.9,116.0L127.5,115.3L128.7,114.0M129.9,117.7L128.9,118.5L129.2,119.5L129.1,120.2L129.5,121.5L129.3,122.4M129.9,117.7L130.4,117.2M129.9,117.7L130.3,119.0L130.8,118.8L131.6,118.7L132.0,119.4L132.3,120.4M132.3,120.4L131.2,120.5L130.9,120.8L131.1,121.6M130.8,116.7L131.6,117.7L132.1,118.4L132.9,119.7L133.2,120.3M133.2,120.3L133.2,121.3L132.5,121.6L131.8,122.2M132.3,120.4L133.2,120.3M129.9,124.0L130.3,124.3L130.8,124.1M134.1,125.9L134.9,126.4L135.6,126.2L136.4,125.8L136.7,124.9L137.6,124.9M148.0,128.0L148.0,131.0" fill="none" stroke="#cfd5dd" stroke-width="0.25" stroke-linejoin="round" stroke-linecap="round"/></svg>
<svg width="691" height="402" viewBox="0 0 691 402" fill="none" stroke="#3c76b4" stroke-width="1.1" stroke-linecap="round" stroke-linejoin="round"><ellipse cx="211" cy="246.4" rx="19" ry="2" fill="#ededed" stroke="none"/><path d="M209.0,219.6L209.0,202.0A15.5,15.5 0 0 1 225.6,219.6Z" fill="#e9f1f9" stroke-width="0.9"/><path d="M218.4,231.8A15.5,15.5 0 1 1 206.5,206.4L206.5,221.9L221.7,221.9" stroke-width="1.1"/><polygon points="191.2,195.2 205.7,195.2 205.7,209.3 200.3,204.7 191.2,204.7" fill="#fff" stroke-width="1" stroke-linejoin="miter"/><path d="M194.2,197.5H203M194.2,200.5H203" stroke-width="0.9" stroke-linecap="butt"/><rect x="215.2" y="204.4" width="3.5" height="8.1" fill="#fff" stroke-width="1"/><rect x="222.1" y="201.3" width="3.7" height="11.2" fill="#fff" stroke-width="1"/><rect x="229.5" y="199.2" width="4.4" height="13.9" fill="#fff" stroke-width="1"/><circle cx="196.9" cy="215.6" r="1.35" stroke-width="1"/><circle cx="202.8" cy="221.9" r="1.35" stroke-width="1"/><path d="M201.7,216.3L198.4,221.4"/><path d="M203.4,227.4L210.3,227.4" stroke-dasharray="0.7 1.7"/><circle cx="215.2" cy="227.8" r="2.6" fill="#fff"/><path d="M217.8,230.1L223.6,235.0" stroke-width="2.3"/><path d="M218.8,230.9L223.3,234.8" stroke="#fff" stroke-width="0.7"/><ellipse cx="206.7" cy="330.2" rx="19" ry="2" fill="#ededed" stroke="none"/><rect x="191.4" y="309.2" width="5.6" height="10.2" fill="#eef4fb"/><rect x="200.4" y="305.8" width="5.6" height="13.6" fill="#eef4fb"/><rect x="209.7" y="306.7" width="5.6" height="12.7" fill="#eef4fb"/><rect x="219.5" y="300.6" width="5.6" height="18.8" fill="#eef4fb"/><path d="M186.9,319.4L228.7,319.4"/><polyline points="194.1,305.8 203.9,298.8 211.6,303.0 218.8,297.3"/><circle cx="222.3" cy="289.7" r="5.2" fill="#fff"/><text x="222.3" y="292.6" font-size="8.2" text-anchor="middle" fill="#3c76b4" stroke="none" font-family="Liberation Sans, Arial, sans-serif">$</text><ellipse cx="472.6" cy="246.4" rx="19.3" ry="2.1" fill="#ededed" stroke="none"/><polygon points="461.7,203.9 468.4,201.3 468.4,219.6 466.6,219.6" fill="#dbe8f6"/><polygon points="464.7,202.7 468.7,201.3 468.7,218.9" fill="#fff"/><polygon points="468.7,199.2 485.6,199.2 485.6,232.0 468.7,232.0" fill="#dbe8f6"/><polygon points="471.7,204.7 473.6,202.7 480.6,202.7 482.6,204.7 482.6,221.9 471.7,221.9" fill="#fff"/><circle cx="477.0" cy="215.6" r="2.3" fill="#fff"/><path d="M460.9,220.7L466.1,218.9L479.6,218.9Q483.6,219.6 483.3,222.6L483.3,227.8Q481.8,232.0 475.9,232.0L460.9,232.0Z" fill="#fff"/><path d="M472.9,224.1L482.9,224.1M472.9,226.6L482.3,226.6M472.9,229.2L481.2,229.2"/><polygon points="452.3,218.9 460.9,218.9 460.9,232.0 452.3,232.0" fill="#fff"/><path d="M456.7,220.7L456.7,230.5" stroke-dasharray="4 1.5"/><ellipse cx="472.6" cy="327.6" rx="19.3" ry="2.1" fill="#ededed" stroke="none"/><circle cx="474.4" cy="304.1" r="16.1" fill="#fff" stroke-width="1.2" stroke-dasharray="13 1.5 2.5 1.5 200"/><path d="M467.4,301.4C467.7,301.2 468.3,300.3 468.9,299.9C469.6,299.5 470.4,299.3 471.4,299.1C472.4,298.9 474.1,298.6 474.9,298.7C475.7,298.9 475.7,299.7 476.4,299.9C477.1,300.1 478.2,299.5 478.9,299.9C479.5,300.3 479.8,301.7 480.4,302.4C481.0,303.2 482.3,303.7 482.4,304.4C482.4,305.1 481.0,305.6 480.6,306.4C480.1,307.1 479.9,308.0 479.6,308.9C479.2,309.8 479.1,310.9 478.6,311.9C478.1,312.8 477.2,314.2 476.6,314.7C476.0,315.1 475.5,315.3 475.1,314.9C474.7,314.4 474.4,313.0 474.1,312.1C473.8,311.1 473.8,309.8 473.5,309.1C473.2,308.3 473.0,307.8 472.5,307.5C472.0,307.2 471.1,307.7 470.4,307.5C469.7,307.3 469.0,307.0 468.4,306.4C467.9,305.8 467.3,304.7 467.1,303.9C467.0,303.1 467.4,301.8 467.4,301.4"/><path d="M473.7,288.8C473.3,289.0 472.0,289.7 471.4,290.2C470.8,290.6 470.4,290.8 469.9,291.5C469.5,292.1 468.8,293.2 468.6,294.0C468.5,294.7 468.5,295.6 468.9,296.1C469.3,296.7 470.6,297.1 470.9,297.3"/><path d="M471.4,296.1L477.7,296.1" stroke-dasharray="1.6 1"/><path d="M477.7,296.3C478.1,296.7 479.2,297.9 479.9,298.7C480.5,299.6 481.1,301.2 481.7,301.5C482.2,301.8 482.8,300.9 483.4,300.4C483.9,300.0 484.3,299.1 484.9,298.9C485.4,298.7 486.1,298.7 486.6,299.1C487.2,299.5 487.9,300.7 488.3,301.4C488.8,302.2 489.3,303.3 489.5,303.7"/><path d="M458.8,305.2C459.1,305.3 460.3,305.9 461.0,306.1C461.7,306.3 462.3,306.3 463.0,306.5C463.7,306.7 464.6,307.0 465.1,307.5C465.7,308.0 466.5,308.7 466.5,309.5C466.6,310.2 465.9,311.2 465.5,311.9C465.2,312.6 465.0,313.1 464.7,313.7C464.4,314.2 463.9,315.1 463.8,315.3"/><path d="M459.3,301.7C459.5,301.1 460.2,298.9 460.8,297.7C461.4,296.5 462.1,295.5 463.0,294.6C463.8,293.6 465.3,292.1 465.7,292.2C466.1,292.2 465.7,294.0 465.3,295.0C465.0,295.9 464.4,297.2 463.8,298.1C463.2,299.1 462.5,300.1 461.8,300.7C461.0,301.3 459.7,301.6 459.3,301.7"/><ellipse cx="481.7" cy="311.4" rx="0.8" ry="1.9" transform="rotate(22 481.7 311.4)"/></svg><svg width="691" height="402" viewBox="0 0 691 402" fill="none" stroke="#b8bec7" stroke-width="1.6" stroke-linecap="round" stroke-linejoin="round"><rect x="57.6" y="298.4" width="63.4" height="49.4" rx="2.5"/><rect x="85.1" y="293.9" width="10.0" height="4.5" rx="1.5"/><rect x="68.4" y="349.1" width="41.6" height="3.5" rx="1.2" stroke-width="1.2"/><path d="M82.5,353.8L77.1,365.1M95.9,353.8L101.9,365.1"/><polyline points="74.5,321.8 84.6,316.4 94.4,321.8 105.2,306.6"/><circle cx="74.5" cy="321.8" r="2.5" fill="#f4f4f4"/><circle cx="84.6" cy="316.4" r="2.5" fill="#f4f4f4"/><circle cx="94.4" cy="321.8" r="2.5" fill="#f4f4f4"/><circle cx="105.2" cy="306.6" r="2.5" fill="#f4f4f4"/><rect x="71.6" y="330.9" width="6.1" height="11.5"/><rect x="81.4" y="326.1" width="6.5" height="16.2"/><rect x="91.6" y="330.9" width="6.5" height="11.5"/><path d="M101.5,341.9L106.7,341.9"/><path d="M122.3,338.2L129.7,349.1" stroke-width="5"/><path d="M122.7,338.9L129.4,348.6" stroke="#f4f4f4" stroke-width="2"/><circle cx="114.9" cy="326.1" r="13" fill="#f4f4f4"/><circle cx="114.9" cy="326.1" r="9.6"/></svg>
<h1>
<span class="t" style="left:213.90px;top:2px;font-size:21.2px;line-height:21.2px;color:#0c6dbd;font-weight:bold;-webkit-text-stroke:0.35px #0c6dbd;transform:scaleX(1.0708)">SD-WAN</span>
<span class="t" style="left:312.78px;top:2px;font-size:21.2px;line-height:21.2px;color:#0c6dbd;font-weight:bold;-webkit-text-stroke:0.35px #0c6dbd;transform:scaleX(1.1124)">Market</span>
<span class="t" style="left:395.10px;top:2px;font-size:21.2px;line-height:21.2px;color:#0c6dbd;font-weight:bold;-webkit-text-stroke:0.35px #0c6dbd;transform:scaleX(1.1126)">Overview</span>
</h1>
<div class="t" style="left:189.85px;top:67px;font-size:23.8px;line-height:23.8px;color:#1a1a1a;transform:scaleX(1.1285)">3.4</div>
<div class="t" style="left:272.32px;top:64px;font-size:14.4px;line-height:14.4px;color:#a0a0a0;-webkit-text-stroke:0.15px #a0a0a0;transform:scaleX(0.9448)">USD Billion</div>
<div class="t" style="left:272.90px;top:78px;font-size:12.4px;line-height:12.4px;color:#a0a0a0;-webkit-text-stroke:0.15px #a0a0a0;transform:scaleX(1.0660)">2022</div>
<div class="t" style="left:439.86px;top:63px;font-size:27.7px;line-height:27.7px;color:#fdb714;transform:scaleX(1.0540)">13.7</div>
<div class="t" style="left:538.87px;top:64px;font-size:14.4px;line-height:14.4px;color:#a0a0a0;-webkit-text-stroke:0.15px #a0a0a0;transform:scaleX(0.9252)">USD Billion</div>
<div class="t" style="left:539.80px;top:81px;font-size:13.2px;line-height:13.2px;color:#a0a0a0;-webkit-text-stroke:0.15px #a0a0a0;transform:scaleX(1.0102)">2027</div>
<div class="t" style="left:215.40px;top:131px;font-size:20.8px;line-height:20.8px;color:#8cb0d8;font-weight:bold;-webkit-text-stroke:0.4px #8cb0d8;transform:scaleX(0.7908)">CAGR</div>
<div class="t" style="left:270.00px;top:137px;font-size:13.5px;line-height:13.5px;color:#cfdcec;transform:scaleX(1.0080)">of</div>
<div class="t" style="left:214.00px;top:153px;font-size:24.3px;line-height:24.3px;color:#3b73a8;transform:scaleX(1.0340)">31.9%</div>
<p>
<span class="t" style="left:17.00px;top:191px;font-size:12px;line-height:12px;color:#333333;-webkit-text-stroke:0.12px #333333;transform:scaleX(1.0279)">Emerging economies in</span>
<span class="t" style="left:17.00px;top:207px;font-size:12px;line-height:12px;color:#333333;-webkit-text-stroke:0.12px #333333;transform:scaleX(1.0241)">Asia Pacific are expected</span>
<span class="t" style="left:17.00px;top:222px;font-size:12px;line-height:12px;color:#333333;-webkit-text-stroke:0.12px #333333;transform:scaleX(1.0518)">to offer new market</span>
<span class="t" style="left:17.00px;top:238px;font-size:12px;line-height:12px;color:#333333;-webkit-text-stroke:0.12px #333333;transform:scaleX(1.0374)">opportunities to vendors of</span>
<span class="t" style="left:17.00px;top:254px;font-size:12px;line-height:12px;color:#333333;-webkit-text-stroke:0.12px #333333;transform:scaleX(0.9978)">the SD-WAN market.</span>
</p>
<p>
<span class="t" style="left:305.00px;top:132px;font-size:12px;line-height:12px;color:#222222;-webkit-text-stroke:0.12px #222222;transform:scaleX(1.0155)">The global SD-WAN market is expected to grow from USD 3.4</span>
<span class="t" style="left:305.00px;top:147px;font-size:12px;line-height:12px;color:#222222;-webkit-text-stroke:0.12px #222222;transform:scaleX(1.0454)">billion in 2022 to USD 13.7 billion by 2027, at a CAGR of 31.9%</span>
<span class="t" style="left:305.00px;top:163px;font-size:12px;line-height:12px;color:#222222;-webkit-text-stroke:0.12px #222222;transform:scaleX(1.0490)">during the forecast period.</span>
</p>
<p>
<span class="t" style="left:239.30px;top:195px;font-size:12px;line-height:12px;color:#222222;-webkit-text-stroke:0.12px #222222;transform:scaleX(1.0171)">Growth factors for the SD-WAN</span>
<span class="t" style="left:239.30px;top:211px;font-size:12px;line-height:12px;color:#222222;-webkit-text-stroke:0.12px #222222;transform:scaleX(1.0547)">market include rapidly increasing</span>
<span class="t" style="left:239.30px;top:226px;font-size:12px;line-height:12px;color:#222222;-webkit-text-stroke:0.12px #222222;transform:scaleX(1.0462)">mobile data traffic, emergence of</span>
<span class="t" style="left:239.30px;top:242px;font-size:12px;line-height:12px;color:#222222;-webkit-text-stroke:0.12px #222222;transform:scaleX(1.0517)">cloud applications, and benefits</span>
<span class="t" style="left:239.30px;top:258px;font-size:12px;line-height:12px;color:#222222;-webkit-text-stroke:0.12px #222222;transform:scaleX(0.9613)">of lower CAPEX and OPEX.</span>
</p>
<p>
<span class="t" style="left:239.30px;top:288px;font-size:12px;line-height:12px;color:#222222;-webkit-text-stroke:0.12px #222222;transform:scaleX(1.0244)">Among deployment modes,</span>
<span class="t" style="left:239.30px;top:303px;font-size:12px;line-height:12px;color:#222222;-webkit-text-stroke:0.12px #222222;transform:scaleX(1.0362)">the cloud deployment mode</span>
<span class="t" style="left:239.30px;top:319px;font-size:12px;line-height:12px;color:#222222;-webkit-text-stroke:0.12px #222222;transform:scaleX(1.0329)">is projected to grow at a higher</span>
<span class="t" style="left:239.30px;top:335px;font-size:12px;line-height:12px;color:#222222;-webkit-text-stroke:0.12px #222222;transform:scaleX(1.0393)">rate during the forecast period.</span>
</p>
<p>
<span class="t" style="left:502.20px;top:199px;font-size:12px;line-height:12px;color:#222222;-webkit-text-stroke:0.12px #222222;transform:scaleX(1.0395)">Acquisitions and product</span>
<span class="t" style="left:502.20px;top:214px;font-size:12px;line-height:12px;color:#222222;-webkit-text-stroke:0.12px #222222;transform:scaleX(1.0474)">launches would offer lucrative</span>
<span class="t" style="left:502.20px;top:230px;font-size:12px;line-height:12px;color:#222222;-webkit-text-stroke:0.12px #222222;transform:scaleX(1.0550)">opportunities for market</span>
<span class="t" style="left:502.20px;top:246px;font-size:12px;line-height:12px;color:#222222;-webkit-text-stroke:0.12px #222222;transform:scaleX(1.0292)">players in the next five years.</span>
</p>
<p>
<span class="t" style="left:502.20px;top:288px;font-size:12px;line-height:12px;color:#222222;-webkit-text-stroke:0.12px #222222;transform:scaleX(1.0214)">The market growth in Asia</span>
<span class="t" style="left:502.20px;top:303px;font-size:12px;line-height:12px;color:#222222;-webkit-text-stroke:0.12px #222222;transform:scaleX(1.0484)">Pacific can be attributed to</span>
<span class="t" style="left:502.20px;top:319px;font-size:12px;line-height:12px;color:#222222;-webkit-text-stroke:0.12px #222222;transform:scaleX(1.0224)">the high adoption of IoT</span>
<span class="t" style="left:502.20px;top:335px;font-size:12px;line-height:12px;color:#222222;-webkit-text-stroke:0.12px #222222;transform:scaleX(1.0448)">hardware and increasing</span>
<span class="t" style="left:502.20px;top:350px;font-size:12px;line-height:12px;color:#222222;-webkit-text-stroke:0.12px #222222;transform:scaleX(1.0382)">technology investments for</span>
<span class="t" style="left:502.20px;top:366px;font-size:12px;line-height:12px;color:#222222;-webkit-text-stroke:0.12px #222222;transform:scaleX(1.0501)">automation.</span>
</p>
<div class="t" style="left:19.00px;top:351.70px;font-size:26.0px;line-height:26.0px;color:#cfcfcf;-webkit-text-stroke:0.35px #cfcfcf;transform:rotate(-90deg) scaleX(0.7651)">APAC</div>
</body></html>
